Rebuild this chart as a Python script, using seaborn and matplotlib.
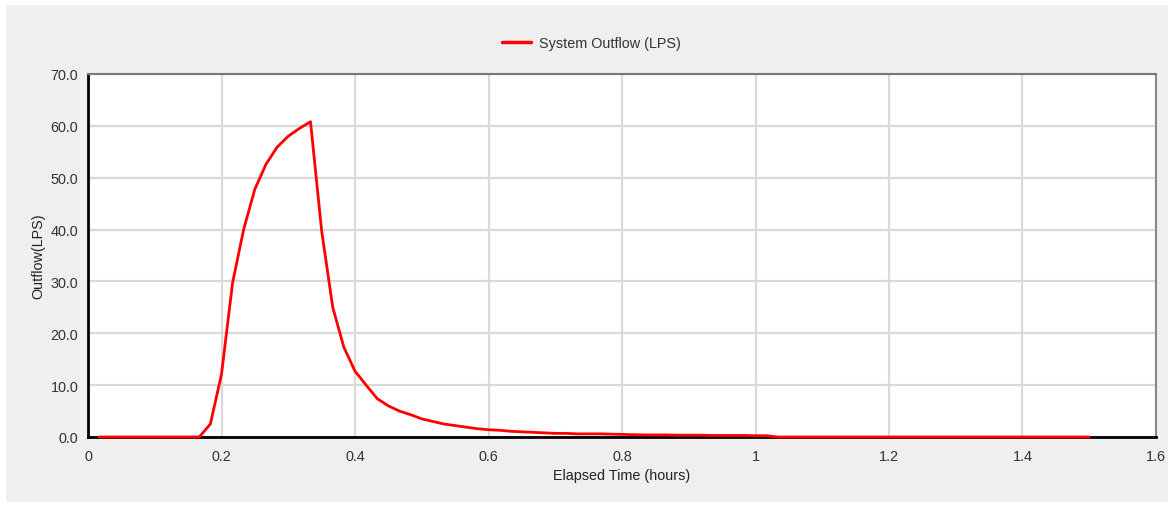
import matplotlib
matplotlib.use("Agg")
import matplotlib.pyplot as plt
import seaborn as sns
import pandas as pd
from matplotlib.patches import Rectangle

sns.set_theme(style="white")
plt.rcParams['font.family'] = ['Liberation Sans', 'DejaVu Sans']

# Elapsed time in minutes (converted to hours below)
minutes = list(range(1, 91))
outflow = (
    [0.0] * 10 +                                   # 1-10 min
    [2.5, 12.1, 29.8, 40.1, 47.8, 52.6, 55.9, 58.0, 59.5, 60.8,   # 11-20
     39.8, 25.0, 17.3, 12.7, 10.0, 7.4, 6.0, 5.0, 4.3, 3.5,       # 21-30
     3.0, 2.5, 2.2, 1.9, 1.6, 1.4, 1.3, 1.1, 1.0, 0.9,            # 31-40
     0.8, 0.7, 0.7, 0.6, 0.6, 0.6, 0.55, 0.5, 0.45, 0.4,          # 41-50
     0.4, 0.4, 0.35, 0.35, 0.35, 0.3, 0.3, 0.3, 0.3, 0.25,        # 51-60
     0.25, 0.0] +                                                 # 61-62
    [0.0] * 28                                                    # 63-90
)
hours = [m / 60.0 for m in minutes]

series_name = "System Outflow (LPS)"
x_ticks = [0, 0.2, 0.4, 0.6, 0.8, 1.0, 1.2, 1.4, 1.6]
x_tick_labels = ["0", "0.2", "0.4", "0.6", "0.8", "1", "1.2", "1.4", "1.6"]
y_ticks = [0, 10, 20, 30, 40, 50, 60, 70]
y_tick_labels = ["0.0", "10.0", "20.0", "30.0", "40.0", "50.0", "60.0", "70.0"]

df = pd.DataFrame({"Elapsed Time (hours)": hours, "Outflow": outflow, "series": series_name})

W, H = 1176, 506
FS = 10.4
fig = plt.figure(figsize=(W / 100, H / 100), dpi=100, facecolor="white")
bg = Rectangle((6 / W, 1 - 503 / H), (1168 - 6) / W, (503 - 6) / H,
               transform=fig.transFigure, facecolor="#efefef",
               edgecolor="none", zorder=-10)
fig.add_artist(bg)

ax = fig.add_axes([88 / W, 1 - 438 / H, (1156 - 88) / W, (438 - 75) / H])
ax.set_zorder(1)
ax.set_facecolor("white")

sns.lineplot(data=df, x="Elapsed Time (hours)", y="Outflow", hue="series",
             palette=["#ff0000"], linewidth=2.0, ax=ax, zorder=5, clip_on=False)

ax.set_xlim(0, 1.6)
ax.set_ylim(0, 70)
ax.set_xticks(x_ticks)
ax.set_xticklabels(x_tick_labels)
ax.set_yticks(y_ticks)
ax.set_yticklabels(y_tick_labels)
ax.grid(True, color="#d9d9d9", linewidth=1.6)
ax.set_axisbelow(True)

for side in ["left", "bottom"]:
    ax.spines[side].set_color("black")
    ax.spines[side].set_linewidth(2.0)
ax.spines["top"].set_color("#777777")
ax.spines["top"].set_linewidth(1.5)
ax.spines["right"].set_color("#888888")
ax.spines["right"].set_linewidth(1.5)
ax.spines["bottom"].set_zorder(4)

ax.tick_params(axis="both", which="both", direction="out", length=5, width=1,
               color="#aaaaaa", labelsize=FS, labelcolor="#333333", pad=2)
ax.tick_params(axis="x", pad=4)

ax.set_xlabel("Elapsed Time (hours)", fontsize=FS, color="#222222", labelpad=3)
ax.set_ylabel("Outflow(LPS)", fontsize=FS, color="#222222", labelpad=4)

leg = ax.legend(loc="center", bbox_to_anchor=(0.503, 1 - 44 / H),
                bbox_transform=fig.transFigure, frameon=False, fontsize=FS,
                handlelength=2.0, handletextpad=0.6)
for t in leg.get_texts():
    t.set_color("#333333")
for l in leg.get_lines():
    l.set_linewidth(2.5)

fig.savefig("out.png", dpi=100, facecolor="white")
